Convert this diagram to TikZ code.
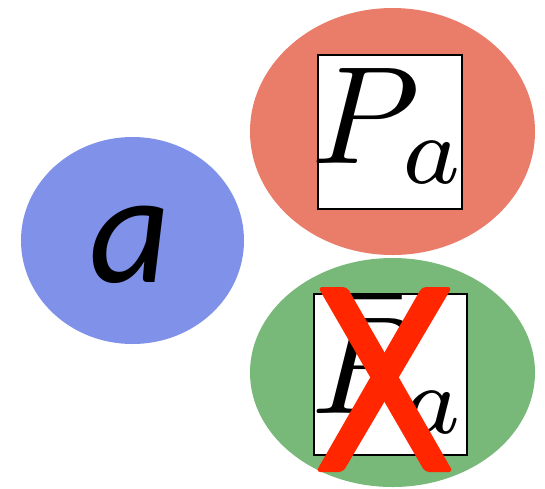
\documentclass[tikz,border=0pt]{standalone}
\usepackage{fontspec}
\newfontfamily\carl{Carlito}
\usetikzlibrary{shapes.geometric}
\definecolor{blueC}{RGB}{127,145,232}
\definecolor{redC}{RGB}{234,125,106}
\definecolor{greenC}{RGB}{120,184,120}
\definecolor{xred}{RGB}{255,38,0}
\begin{document}
\begin{tikzpicture}[x=1pt,y=-1pt,
  blob/.style={ellipse, inner sep=0pt},
  framebox/.style={draw=black, line width=2pt, fill=white, inner sep=0pt},
  bigmath/.style={inner sep=0pt, anchor=base, scale=13.9}]
\useasboundingbox (0,0) rectangle (545,488);
\node[blob, fill=blueC, minimum width=223pt, minimum height=207pt] (ea) at (132.5,240.5) {};
\node[blob, fill=redC, minimum width=285pt, minimum height=247pt] (ep) at (392.5,131.5) {};
\node[blob, fill=greenC, minimum width=285pt, minimum height=229pt] (eq) at (392.5,372.5) {};
\node[inner sep=0pt, anchor=base, font=\carl\itshape\fontsize{158}{158}\selectfont] (ta) at (130,282) {a};
\node[framebox, minimum width=144pt, minimum height=154pt] (pbox) at (390,132) {};
\node[bigmath] (tp) at (390,163) {$P_a$};
\node[framebox, minimum width=153pt, minimum height=161pt] (qbox) at (390.5,374.5) {};
\node[bigmath] (tq) at (390,413) {$\bar{P}_a$};
\fill[xred, rounded corners=4pt] (318,287) -- (347,287) -- (453,472) -- (425,472) -- cycle;
\fill[xred, rounded corners=4pt] (422,287) -- (452,287) -- (343,472) -- (316,472) -- cycle;
\end{tikzpicture}
\end{document}
